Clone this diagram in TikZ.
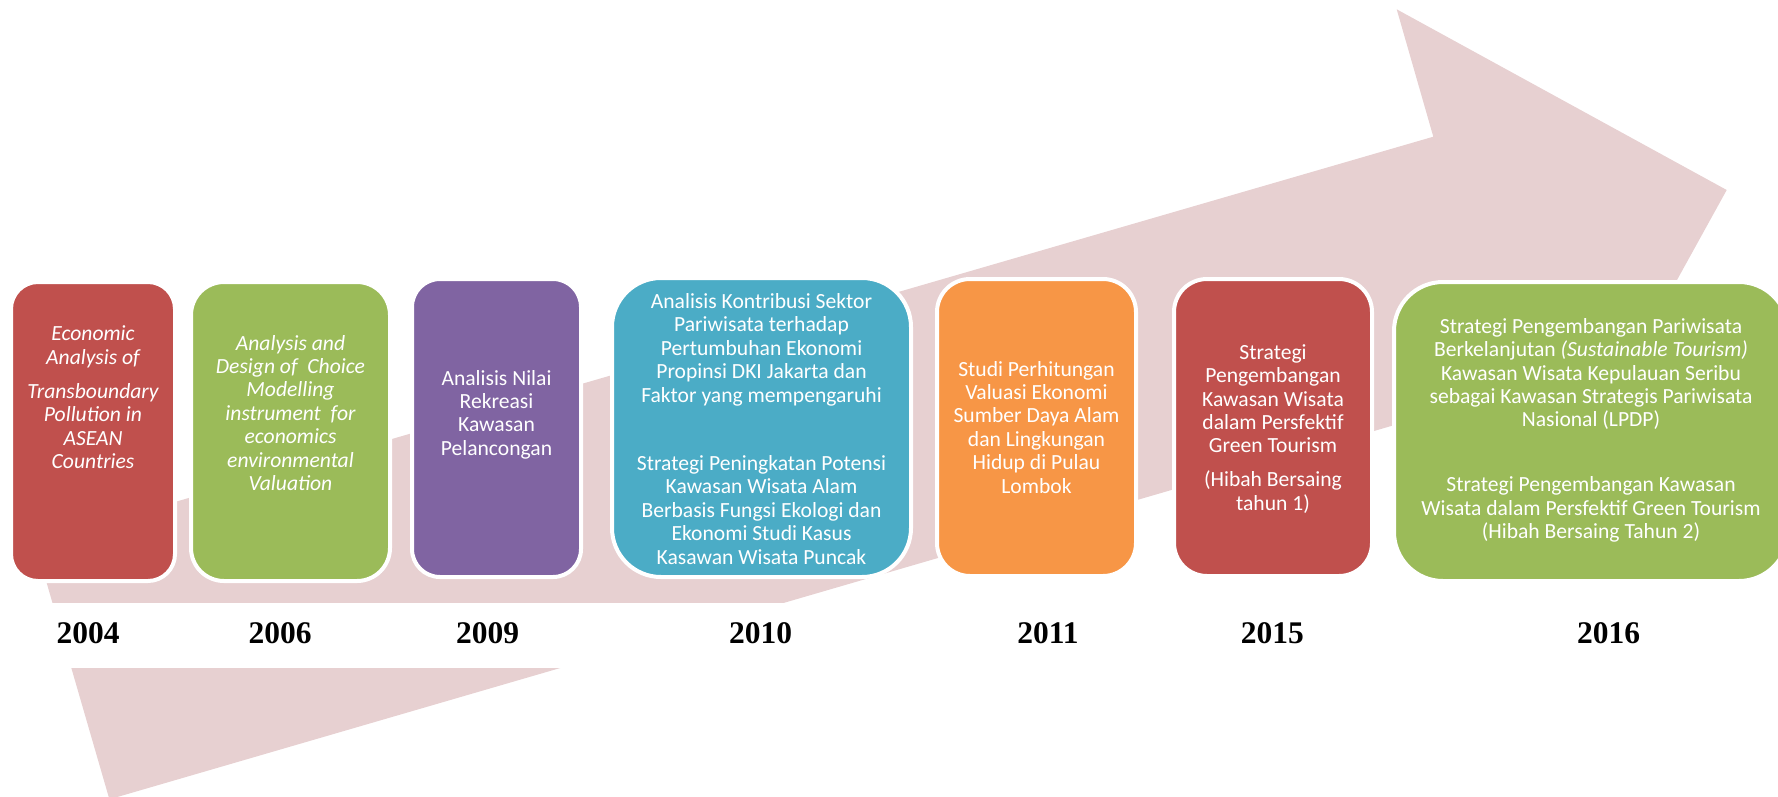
\documentclass[tikz,border=0pt]{standalone}
\usepackage{fontspec}
\setmainfont{Carlito}
\newfontfamily\yearfont{Liberation Serif}
\definecolor{arrowpink}{RGB}{231,208,209}
\definecolor{cred}{RGB}{192,80,77}
\definecolor{cgreen}{RGB}{155,187,89}
\definecolor{cpurple}{RGB}{128,100,162}
\definecolor{caqua}{RGB}{75,172,198}
\definecolor{corange}{RGB}{247,150,70}
\setlength{\tabcolsep}{0pt}
\tikzset{
  tbox/.style={rectangle, draw=white, line width=4pt, inner sep=0pt},
  txt/.style={text=white, inner sep=0pt, anchor=base, font=\fontsize{21.6}{23.4}\selectfont},
  year/.style={inner sep=0pt, anchor=base, font=\yearfont\bfseries\fontsize{31.5}{36}\selectfont}
}
\begin{document}
\begin{tikzpicture}[x=1pt,y=-1pt]
\useasboundingbox (0,0) rectangle (1778,796);
\clip (0,0) rectangle (1778,796);
% big arrow
\fill[arrowpink] (35,542.6) -- (1433.3,136.7) -- (1396.7,9.3) -- (1726.7,190)
  -- (1544.8,519.3) -- (1507.9,392) -- (109.4,799.3) -- cycle;
% white band for the years
\fill[white] (-5,602.7) rectangle (1790,668.3);
% boxes
\node[tbox, fill=cred, minimum width=164pt, minimum height=299pt, rounded corners=27pt] (b1) at (93,431.5) {};
\node[tbox, fill=cgreen, minimum width=199pt, minimum height=299pt, rounded corners=33pt] (b2) at (290.5,431.5) {};
\node[tbox, fill=cpurple, minimum width=169pt, minimum height=298pt, rounded corners=28pt] (b3) at (496.5,428) {};
\node[tbox, fill=caqua, minimum width=299pt, minimum height=299pt, rounded corners=49pt] (b4) at (761.5,427.5) {};
\node[tbox, fill=corange, minimum width=199pt, minimum height=297pt, rounded corners=33pt] (b5) at (1036.5,427.5) {};
\node[tbox, fill=cred, minimum width=198pt, minimum height=297pt, rounded corners=33pt] (b6) at (1273,427.5) {};
\node[tbox, fill=cgreen, minimum width=394pt, minimum height=299pt, rounded corners=49pt] (b7) at (1591,431.5) {};
% texts
\node[txt] (t1) at (93,340.7) {\itshape\begin{tabular}[t]{@{}c@{}}Economic\\ Analysis of\\[11pt] Transboundary\\ Pollution in\\ ASEAN\\ Countries\end{tabular}};
\node[txt] (t2) at (290.5,350) {\itshape\begin{tabular}[t]{@{}c@{}}Analysis and\\ Design of\ \ Choice\\ Modelling\\ instrument\ \ for\\ economics\\ environmental\\ Valuation\end{tabular}};
\node[txt] (t3) at (496.5,385) {\begin{tabular}[t]{@{}c@{}}Analisis Nilai\\ Rekreasi\\ Kawasan\\ Pelancongan\end{tabular}};
\node[txt] (t4) at (761.5,308.5) {\begin{tabular}[t]{@{}c@{}}Analisis Kontribusi Sektor\\ Pariwisata terhadap\\ Pertumbuhan Ekonomi\\ Propinsi DKI Jakarta dan\\ Faktor yang mempengaruhi\\[45pt] Strategi Peningkatan Potensi\\ Kawasan Wisata Alam\\ Berbasis Fungsi Ekologi dan\\ Ekonomi Studi Kasus\\ Kasawan Wisata Puncak\end{tabular}};
\node[txt] (t5) at (1036.5,376) {\begin{tabular}[t]{@{}c@{}}Studi Perhitungan\\ Valuasi Ekonomi\\ Sumber Daya Alam\\ dan Lingkungan\\ Hidup di Pulau\\ Lombok\end{tabular}};
\node[txt] (t6) at (1273,359.3) {\begin{tabular}[t]{@{}c@{}}Strategi\\ Pengembangan\\ Kawasan Wisata\\ dalam Persfektif\\ Green Tourism\\[10.6pt] (Hibah Bersaing\\ tahun 1)\end{tabular}};
\node[txt] (t7) at (1591,333.3) {\begin{tabular}[t]{@{}c@{}}Strategi Pengembangan Pariwisata\\ Berkelanjutan \textit{(Sustainable Tourism)}\\ Kawasan Wisata Kepulauan Seribu\\ sebagai Kawasan Strategis Pariwisata\\ Nasional (LPDP)\\[41.6pt] Strategi Pengembangan Kawasan\\ Wisata dalam Persfektif Green Tourism\\ (Hibah Bersaing Tahun 2)\end{tabular}};
% years
\node[year] (y1) at (88,643.3) {2004};
\node[year] (y2) at (280,643.3) {2006};
\node[year] (y3) at (487.6,643.3) {2009};
\node[year] (y4) at (760.5,643.3) {2010};
\node[year] (y5) at (1048,643.3) {2011};
\node[year] (y6) at (1272.3,643.3) {2015};
\node[year] (y7) at (1608.7,643.3) {2016};
\end{tikzpicture}
\end{document}
